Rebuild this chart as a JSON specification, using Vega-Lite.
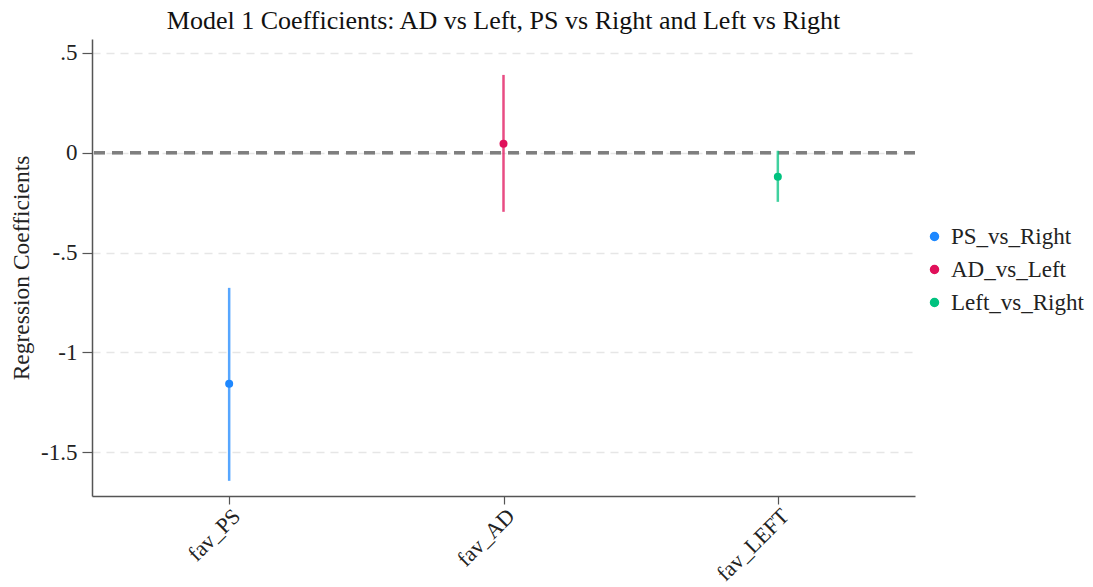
{
  "$schema": "https://vega.github.io/schema/vega-lite/v6.json",
  "width": 823,
  "height": 457,
  "autosize": {"type": "none"},
  "padding": {"left": 92, "top": 39, "right": 178, "bottom": 91},
  "background": "white",
  "config": {
    "font": "Liberation Serif",
    "view": {"stroke": null},
    "axis": {"labelFont": "Liberation Serif", "titleFont": "Liberation Serif", "labelColor": "#222", "titleColor": "#222", "domainColor": "#555", "tickColor": "#555", "domainWidth": 1.5, "tickWidth": 1.2}
  },
  "title": {
    "text": "Model 1 Coefficients: AD vs Left, PS vs Right and Left vs Right",
    "font": "Liberation Serif",
    "fontSize": 26,
    "fontWeight": "normal",
    "color": "#111",
    "anchor": "middle",
    "offset": 5
  },
  "data": {
    "values": [
      {"variable": "fav_PS", "model": "PS_vs_Right", "coef": -1.158, "lo": -1.644, "hi": -0.677},
      {"variable": "fav_AD", "model": "AD_vs_Left", "coef": 0.045, "lo": -0.296, "hi": 0.39},
      {"variable": "fav_LEFT", "model": "Left_vs_Right", "coef": -0.12, "lo": -0.246, "hi": 0.01}
    ]
  },
  "encoding": {
    "x": {
      "field": "variable",
      "type": "nominal",
      "sort": ["fav_PS", "fav_AD", "fav_LEFT"],
      "scale": {"type": "point", "padding": 0.5},
      "axis": {"title": null, "labelAngle": -45, "labelFontSize": 22, "tickSize": 8, "labelPadding": 1, "grid": false}
    }
  },
  "layer": [
    {
      "mark": {"type": "rule", "stroke": "#7f7f7f", "strokeWidth": 3, "strokeDash": [11, 7]},
      "encoding": {"y": {"datum": 0}, "x": null}
    },
    {
      "mark": {"type": "rule", "strokeWidth": 2.5, "opacity": 0.75},
      "encoding": {
        "y": {
          "field": "lo",
          "type": "quantitative",
          "scale": {"domain": [-1.72, 0.57], "nice": false, "zero": false},
          "axis": {
            "title": "Regression Coefficients",
            "titleFontSize": 23.5,
            "titleFontWeight": "normal",
            "titlePadding": 7,
            "values": [0.5, 0, -0.5, -1, -1.5],
            "labelExpr": "datum.value == 0.5 ? '.5' : datum.value == 0 ? '0' : datum.value == -0.5 ? '-.5' : datum.value == -1 ? '-1' : '-1.5'",
            "labelFontSize": 23,
            "tickSize": 10,
            "labelPadding": 5,
            "grid": true,
            "gridColor": "#e6e6e6",
            "gridDash": [8, 6],
            "gridWidth": 1.5
          }
        },
        "y2": {"field": "hi"},
        "color": {
          "field": "model",
          "type": "nominal",
          "scale": {"domain": ["PS_vs_Right", "AD_vs_Left", "Left_vs_Right"], "range": ["#1e88ff", "#e0105a", "#00c27f"]},
          "legend": {
            "title": null,
            "orient": "none",
            "legendX": 831,
            "legendY": 186,
            "labelFontSize": 23,
            "labelFont": "Liberation Serif",
            "labelColor": "#222",
            "symbolSize": 64,
            "symbolType": "circle",
            "symbolOpacity": 1,
            "rowPadding": 9,
            "labelOffset": 5
          }
        }
      }
    },
    {
      "mark": {"type": "point", "filled": true, "opacity": 1, "size": 64, "shape": "circle"},
      "encoding": {
        "y": {"field": "coef", "type": "quantitative"},
        "color": {
          "field": "model",
          "type": "nominal",
          "scale": {"domain": ["PS_vs_Right", "AD_vs_Left", "Left_vs_Right"], "range": ["#1e88ff", "#e0105a", "#00c27f"]}
        }
      }
    }
  ]
}
